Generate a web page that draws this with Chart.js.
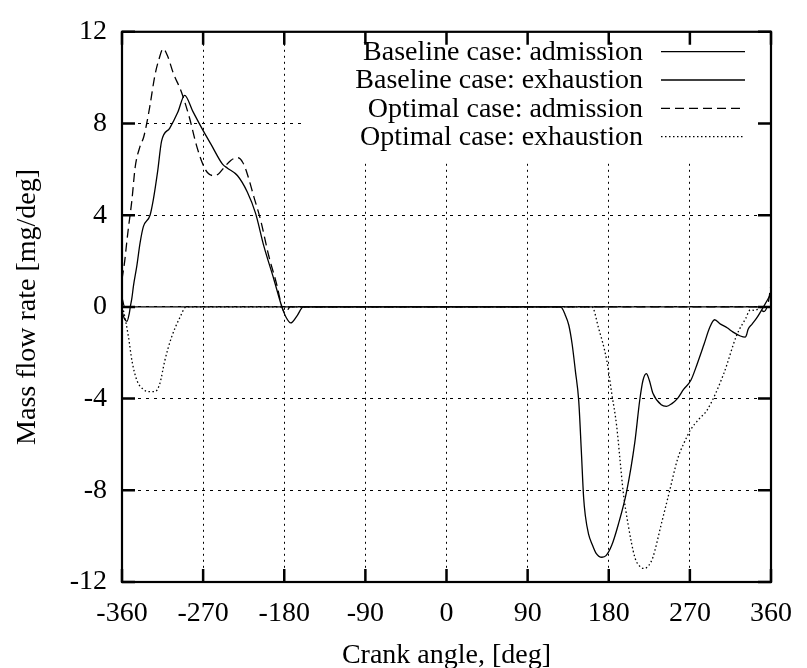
<!DOCTYPE html>
<html>
<head>
<meta charset="utf-8">
<script src="https://cdn.jsdelivr.net/npm/chart.js@4.4.0/dist/chart.umd.min.js"></script>
<style>
  html, body { margin: 0; padding: 0; background: #fff; }
  #wrap { width: 807px; height: 668px; }
</style>
</head>
<body>
<div id="wrap"><canvas id="chart" width="807" height="668"></canvas></div>
<script>
// tick values
const xTicks = [-360, -270, -180, -90, 0, 90, 180, 270, 360];
const yTicks = [-12, -8, -4, 0, 4, 8, 12];

// Baseline case: admission
const baseAdmX = [-360, -357.5, -354.5, -352, -350.8, -349, -347.2, -343.5, -339.9, -336.3, -328.9, -325.3, -320.5, -316.1, -307, -298, -290.5, -281.4, -271.5, -261.2, -248.5, -243, -232, -221, -211.8, -202.7, -191.7, -182.6, -178, -172.8, -166, -158.8, 360];
const baseAdmY = [-0.2, -0.5, -0.63, -0.3, 0, 0.39, 0.94, 1.8, 2.8, 3.5, 4.0, 4.67, 5.9, 7.23, 7.8, 8.5, 9.23, 8.53, 7.8, 7.09, 6.23, 6.05, 5.73, 5.01, 4.08, 2.66, 1.23, 0, -0.45, -0.7, -0.4, 0, 0];

// Baseline case: exhaustion
const baseExhX = [-360, -357, 126.6, 131.6, 135.7, 139.4, 143, 146.7, 149.6, 152.1, 154, 157.6, 161.4, 166, 172.5, 177, 183.3, 190.6, 199.8, 208.9, 214.4, 218, 221.7, 225, 229, 238.2, 244, 250, 256.4, 263, 271.1, 278, 285.7, 292, 297.4, 304, 311.3, 318, 326, 331.5, 333, 334.5, 339, 344.2, 351.6, 358.9, 360];
const baseExhY = [0.4, 0, 0, -0.34, -0.8, -1.63, -2.8, -4.1, -6.3, -8.3, -9.1, -9.91, -10.34, -10.75, -10.92, -10.85, -10.4, -9.49, -8.06, -5.91, -4.06, -3.2, -2.91, -3.2, -3.77, -4.27, -4.34, -4.22, -3.99, -3.6, -3.2, -2.5, -1.63, -0.9, -0.56, -0.75, -0.91, -1.1, -1.27, -1.32, -1.2, -0.99, -0.75, -0.48, 0, 0.51, 0.6];

// Optimal case: admission
const optAdmX = [-360, -357, -354.5, -352.7, -349, -345.4, -340, -336, -332.6, -328.9, -323.5, -319, -314.3, -309, -303.4, -294.1, -285, -277.7, -270.4, -265, -259.5, -253, -246.6, -239, -232, -226, -221, -213.7, -206.3, -197.2, -188.1, -182.6, -178.9, -173.4, 344, 352, 357, 360];
const optAdmY = [1.2, 2.0, 2.9, 3.5, 4.66, 6.09, 7.0, 7.4, 8.0, 8.8, 10.1, 10.8, 11.26, 10.9, 10.23, 9.37, 8.23, 7.09, 6.23, 5.85, 5.73, 5.8, 6.09, 6.4, 6.51, 6.3, 5.8, 4.8, 3.8, 2.23, 0.94, 0, -0.27, 0, 0, -0.2, 0.2, 1.0];

// Optimal case: exhaustion
const optExhX = [-360, -358.2, -352.7, -349, -343.5, -336.3, -330, -323.4, -318, -312.5, -305.2, -296, -288.7, 161.4, 168.6, 177.8, 183.3, 188.8, 192.4, 196, 201.5, 208.9, 214, 219.1, 224, 229, 238.2, 247.3, 256.4, 263.8, 271.1, 280, 289.3, 307.6, 322.3, 332, 337, 342, 350, 360];
const optExhY = [0, -0.2, -1.34, -2.34, -3.2, -3.6, -3.7, -3.7, -3.34, -2.34, -1.34, -0.48, 0, 0, -0.91, -2.34, -3.77, -5.2, -6.63, -8.06, -9.49, -10.92, -11.3, -11.41, -11.3, -10.92, -9.49, -8.06, -6.63, -5.91, -5.34, -4.9, -4.49, -2.91, -1.2, -0.5, -0.13, -0.15, 0, 0];

const pts = (xs, ys) => xs.map((x, i) => ({ x: x, y: ys[i] }));
const FONT = 'Liberation Serif, Times New Roman, serif';

// white key box, frame, inward ticks and key, as gnuplot draws them
const gnuplotLook = {
  id: 'gnuplotLook',
  beforeDatasetsDraw(chart) {
    const { ctx, chartArea: a } = chart;
    ctx.save();
    ctx.fillStyle = '#fff';
    ctx.fillRect(302, a.top, a.right - 302, 130);
    ctx.restore();
  },
  afterDraw(chart) {
    const { ctx, chartArea: a, scales } = chart;
    ctx.save();
    ctx.strokeStyle = '#000';
    ctx.lineWidth = 2.5;
    ctx.setLineDash([]);
    const t = 13;
    ctx.beginPath();
    xTicks.forEach(v => {
      const px = scales.x.getPixelForValue(v);
      ctx.moveTo(px, a.bottom); ctx.lineTo(px, a.bottom - t);
      ctx.moveTo(px, a.top); ctx.lineTo(px, a.top + t);
    });
    yTicks.forEach(v => {
      const py = scales.y.getPixelForValue(v);
      ctx.moveTo(a.left, py); ctx.lineTo(a.left + t, py);
      ctx.moveTo(a.right, py); ctx.lineTo(a.right - t, py);
    });
    ctx.stroke();
    ctx.lineWidth = 2.2;
    ctx.strokeRect(a.left, a.top, a.right - a.left, a.bottom - a.top);

    // key
    ctx.font = '28px ' + FONT;
    ctx.fillStyle = '#000';
    ctx.textAlign = 'right';
    ctx.textBaseline = 'middle';
    chart.data.datasets.forEach((ds, i) => {
      const y = 51.7 + i * 28.3;
      ctx.fillText(ds.label, 643, y + 1);
      ctx.lineWidth = ds.borderWidth;
      ctx.setLineDash(ds.borderDash || []);
      ctx.beginPath();
      ctx.moveTo(661, y); ctx.lineTo(745, y);
      ctx.stroke();
    });
    ctx.restore();
  }
};

const lineSet = (label, xs, ys, dash) => ({
  label: label,
  data: pts(xs, ys),
  borderColor: '#000',
  borderWidth: 1.3,
  borderDash: dash,
  pointRadius: 0,
  fill: false,
  cubicInterpolationMode: 'monotone'
});

new Chart(document.getElementById('chart'), {
  type: 'line',
  data: {
    datasets: [
      lineSet('Baseline case: admission', baseAdmX, baseAdmY, []),
      lineSet('Baseline case: exhaustion', baseExhX, baseExhY, []),
      lineSet('Optimal case: admission', optAdmX, optAdmY, [9, 5]),
      lineSet('Optimal case: exhaustion', optExhX, optExhY, [1.5, 2.5])
    ]
  },
  options: {
    responsive: false,
    animation: false,
    layout: { padding: { left: 0, right: 29, top: 22, bottom: 0 } },
    plugins: { legend: { display: false }, tooltip: { enabled: false } },
    scales: {
      x: {
        type: 'linear',
        min: -360, max: 360,
        afterBuildTicks: s => { s.ticks = xTicks.map(v => ({ value: v })); },
        afterFit: s => { s.height = 86; },
        ticks: { color: '#000', font: { family: FONT, size: 28 }, padding: 15, maxRotation: 0 },
        grid: { color: '#000', lineWidth: 1, drawTicks: false },
        border: { display: false, dash: [2, 4] },
        title: { display: true, text: 'Crank angle, [deg]', color: '#000', font: { family: FONT, size: 28, lineHeight: 0.9 }, padding: { top: 12, bottom: 0 } }
      },
      y: {
        min: -12, max: 12,
        afterBuildTicks: s => { s.ticks = yTicks.map(v => ({ value: v })); },
        afterFit: s => { s.width = 122; },
        ticks: { color: '#000', font: { family: FONT, size: 28 }, padding: 15 },
        grid: { color: '#000', lineWidth: 1, drawTicks: false },
        border: { display: false, dash: [3, 5] },
        title: { display: true, text: 'Mass flow rate [mg/deg]', color: '#000', font: { family: FONT, size: 28 }, padding: { top: 11, bottom: 0 } }
      }
    }
  },
  plugins: [gnuplotLook]
});
</script>
</body>
</html>
